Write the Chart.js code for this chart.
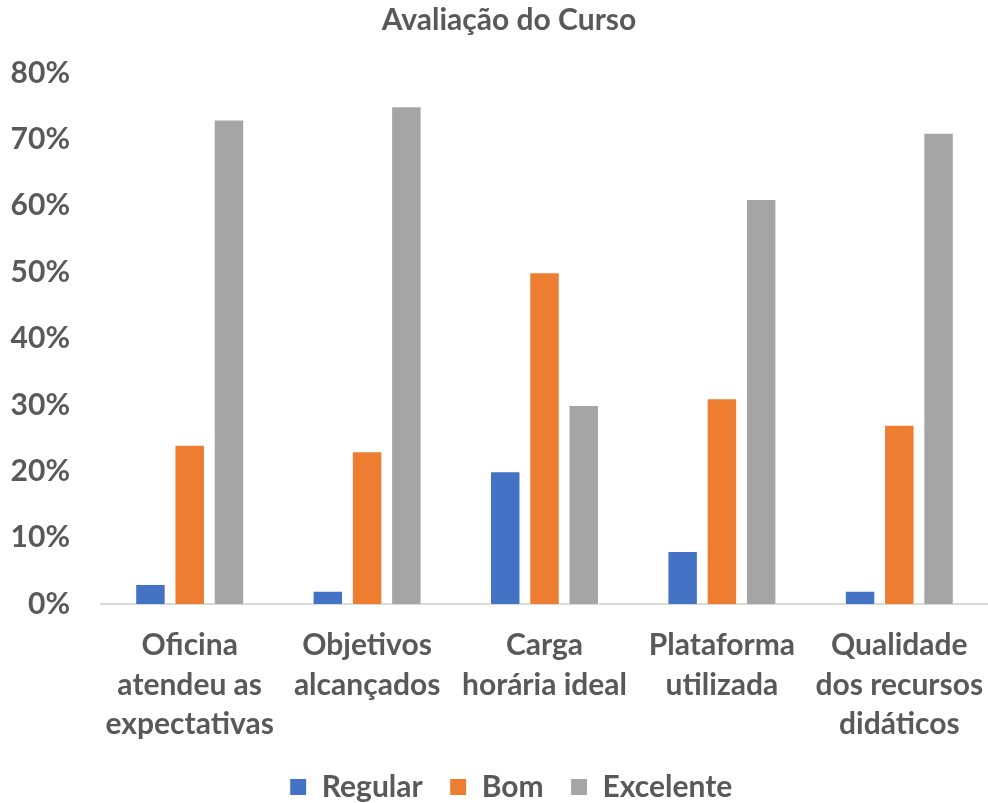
<!DOCTYPE html>
<html>
<head>
<meta charset="utf-8">
<script src="https://cdn.jsdelivr.net/npm/chart.js@4.4.1/dist/chart.umd.min.js"></script>
<style>
  html, body { margin: 0; padding: 0; background: #fff; }
  #wrap { width: 988px; height: 803px; position: relative; }
</style>
</head>
<body>
<div id="wrap"><canvas id="chart"></canvas></div>
<script>
const categories = [
    ['Oficina', 'atendeu as', 'expectativas'],
    ['Objetivos', 'alcançados'],
    ['Carga', 'horária ideal'],
    ['Plataforma', 'utilizada'],
    ['Qualidade', 'dos recursos', 'didáticos']
];
const regular = [3, 2, 20, 8, 2];
const bom = [24, 23, 50, 31, 27];
const excelente = [73, 75, 30, 61, 71];
const yTicks = [0, 10, 20, 30, 40, 50, 60, 70, 80];

const textColor = '#595959';
const fontFamily = 'Lato, "Open Sans", sans-serif';

// nudge title and legend to the right like the original
const shiftBlocks = {
    id: 'shiftBlocks',
    afterLayout(chart) {
        if (chart.titleBlock) chart.titleBlock.left = 30;
        if (chart.legend) chart.legend.left = 34;
    }
};

function makeDataset(label, data, color) {
    return {
        label: label,
        data: data,
        backgroundColor: color,
        borderColor: '#ffffff',
        borderWidth: 1,
        categoryPercentage: 0.664,
        barPercentage: 0.776
    };
}

const canvas = document.getElementById('chart');
new Chart(canvas, {
    type: 'bar',
    data: {
        labels: categories,
        datasets: [
            makeDataset('Regular', regular, '#4472C4'),
            makeDataset('Bom', bom, '#ED7D31'),
            makeDataset('Excelente', excelente, '#A5A5A5')
        ]
    },
    options: {
        responsive: true,
        maintainAspectRatio: false,
        animation: false,
        layout: { padding: { left: 0, right: 0, top: 0, bottom: -9 } },
        scales: {
            x: {
                grid: { display: false, drawTicks: false },
                border: { display: true, color: '#D9D9D9', width: 2 },
                ticks: {
                    color: textColor,
                    padding: 22,
                    maxRotation: 0,
                    autoSkip: false,
                    font: { family: fontFamily, size: 30, weight: 'bold', lineHeight: 1.317 }
                },
                afterFit: (scale) => {
                    scale.height = 141;
                    scale.paddingLeft = 0;
                    scale.paddingRight = 0;
                }
            },
            y: {
                min: 0,
                max: 80,
                grid: { display: false, drawTicks: false },
                border: { display: false },
                afterBuildTicks: (scale) => { scale.ticks = yTicks.map(v => ({ value: v })); },
                ticks: {
                    color: textColor,
                    padding: 31,
                    font: { family: fontFamily, size: 30, weight: 'bold' },
                    callback: (v) => v + '%'
                },
                afterFit: (scale) => { scale.width = 101; }
            }
        },
        plugins: {
            title: {
                display: true,
                text: 'Avaliação do Curso',
                color: textColor,
                padding: { top: 2, bottom: 35 },
                font: { family: fontFamily, size: 30, weight: 'bold' }
            },
            legend: {
                position: 'bottom',
                labels: {
                    color: textColor,
                    boxWidth: 17,
                    boxHeight: 17,
                    padding: 27,
                    font: { family: fontFamily, size: 30, weight: 'bold' }
                }
            },
            tooltip: { enabled: false }
        }
    },
    plugins: [shiftBlocks]
});
</script>
</body>
</html>
